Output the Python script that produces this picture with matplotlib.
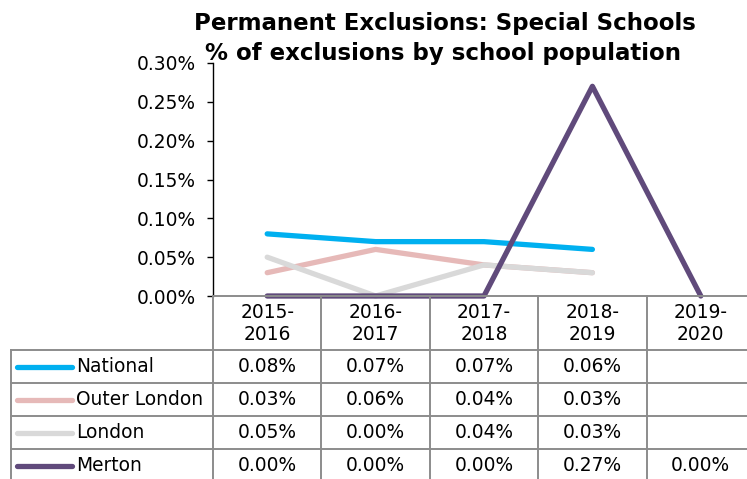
import matplotlib
matplotlib.use("Agg")
import matplotlib.pyplot as plt
from matplotlib.ticker import FuncFormatter

plt.rcParams['font.family'] = ['DejaVu Sans']

# data
years = ['2015-\n2016', '2016-\n2017', '2017-\n2018', '2018-\n2019', '2019-\n2020']
national = [0.08, 0.07, 0.07, 0.06, None]
outer_london = [0.03, 0.06, 0.04, 0.03, None]
london = [0.05, 0.00, 0.04, 0.03, None]
merton = [0.00, 0.00, 0.00, 0.27, 0.00]

names = ['National', 'Outer London', 'London', 'Merton']
colors = ['#00B0F0', '#E6B9B8', '#D9D9D9', '#604A7B']
series = [national, outer_london, london, merton]

W, H = 747, 479
fig = plt.figure(figsize=(W / 100, H / 100), dpi=100)

# plot area in pixels (the chart is cut off on the right)
px_left, px_right, px_top, px_bottom = 213, 755, 63, 296
ax = fig.add_axes([px_left / W, 1 - px_bottom / H,
                   (px_right - px_left) / W, (px_bottom - px_top) / H])

xs = list(range(len(years)))
for vals, col in zip(series, colors):
    pts = [(x, v) for x, v in zip(xs, vals) if v is not None]
    ax.plot([p[0] for p in pts], [p[1] for p in pts], color=col, lw=3.8,
            solid_capstyle='round', clip_on=False)

ax.set_xlim(-0.5, len(years) - 0.5)
ax.set_ylim(0, 0.30)
ax.set_yticks([0, 0.05, 0.10, 0.15, 0.20, 0.25, 0.30])
ax.yaxis.set_major_formatter(FuncFormatter(lambda v, p: f'{v:.2f}%'))
ax.tick_params(axis='y', labelsize=13.4, length=4.3, width=1, direction='out', pad=8)
ax.set_xticks([])
for s in ['top', 'right', 'bottom']:
    ax.spines[s].set_visible(False)
ax.spines['left'].set_color('black')
ax.spines['left'].set_linewidth(1)

fig.text(445 / W, 1 - 30 / H, 'Permanent Exclusions: Special Schools',
         ha='center', va='baseline', fontsize=16.5, fontweight='bold')
fig.text(443 / W, 1 - 60 / H, '% of exclusions by school population',
         ha='center', va='baseline', fontsize=16.5, fontweight='bold')

# data table under the plot
tab = fig.add_axes([0, 0, 1, 1], facecolor='none')
tab.set_xlim(0, W)
tab.set_ylim(H, 0)
tab.axis('off')

grid = '#8C8C8C'
glw = 1.4
fs = 13.4
colw = (px_right - px_left) / len(years)
head_bottom = 350
row_h = 33
lab_left = 11

# header cells
for i, yr in enumerate(years):
    x0 = px_left + i * colw
    tab.text(x0 + colw / 2, (px_bottom + head_bottom) / 2 + 1, yr, ha='center',
             va='center', fontsize=fs, linespacing=1.2)
tab.plot([px_left, px_right], [px_bottom, px_bottom], color=grid, lw=glw)
for i in range(len(years) + 1):
    x0 = px_left + i * colw
    tab.plot([x0, x0], [px_bottom, H + 5], color=grid, lw=glw)

# rows
tab.plot([lab_left, lab_left], [head_bottom, H + 5], color=grid, lw=glw)
for r, (name, vals, col) in enumerate(zip(names, series, colors)):
    y0 = head_bottom + r * row_h
    tab.plot([lab_left, px_right], [y0, y0], color=grid, lw=glw)
    yc = y0 + row_h / 2
    tab.plot([17, 72], [yc, yc], color=col, lw=3.8, solid_capstyle='round')
    tab.text(76, yc, name, ha='left', va='center', fontsize=fs)
    for i, v in enumerate(vals):
        if v is None:
            continue
        tab.text(px_left + i * colw + colw / 2, yc, f'{v:.2f}%', ha='center',
                 va='center', fontsize=fs)

fig.savefig('out.png', dpi=100)
